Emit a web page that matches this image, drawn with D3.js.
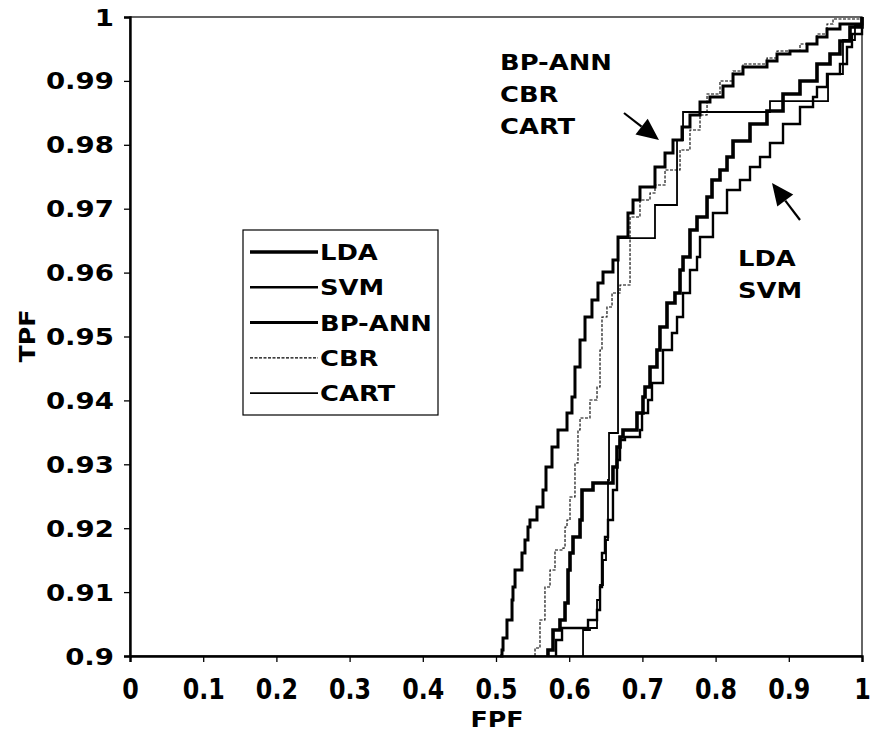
<!DOCTYPE html>
<html>
<head>
<meta charset="utf-8">
<script src="https://cdn.jsdelivr.net/npm/d3@7"></script>
<style>
  html, body { margin: 0; padding: 0; background: #fff; }
  svg { display: block; }
  text { font-family: "DejaVu Sans", Verdana, sans-serif; font-weight: bold; fill: #000; }
</style>
</head>
<body>
<div id="chart"></div>
<script>
// ---------------- data ----------------
const seriesNames = ["LDA", "SVM", "BP-ANN", "CBR", "CART"];
const xTickValues = [0, 0.1, 0.2, 0.3, 0.4, 0.5, 0.6, 0.7, 0.8, 0.9, 1];
const xTickLabels = ["0", "0.1", "0.2", "0.3", "0.4", "0.5", "0.6", "0.7", "0.8", "0.9", "1"];
const yTickValues = [0.9, 0.91, 0.92, 0.93, 0.94, 0.95, 0.96, 0.97, 0.98, 0.99, 1];
const yTickLabels = ["0.9", "0.91", "0.92", "0.93", "0.94", "0.95", "0.96", "0.97", "0.98", "0.99", "1"];

const ldaData = [[0.571,0.9],[0.571,0.90094],[0.5779,0.90407],[0.5874,0.90563],[0.5943,0.9083],[0.5984,0.91346],[0.6011,0.91612],[0.6052,0.91862],[0.6148,0.91925],[0.6148,0.92128],[0.6175,0.92598],[0.6325,0.92598],[0.6325,0.92707],[0.6557,0.92707],[0.6598,0.92958],[0.6653,0.93271],[0.6694,0.93427],[0.6735,0.93537],[0.6926,0.93646],[0.6926,0.93803],[0.7008,0.94053],[0.7036,0.9421],[0.7104,0.94523],[0.7199,0.94789],[0.724,0.95149],[0.7336,0.95524],[0.7445,0.95681],[0.7514,0.96041],[0.7555,0.96244],[0.765,0.96667],[0.7746,0.9687],[0.7883,0.97183],[0.7951,0.97449],[0.806,0.97606],[0.8156,0.97809],[0.8238,0.9806],[0.847,0.98326],[0.8702,0.98529],[0.8921,0.98795],[0.9153,0.98998],[0.9385,0.99264],[0.9563,0.99421],[0.9699,0.99624],[0.9836,0.99844],[1,1]];

const svmData = [[0.582,0.9],[0.582,0.9025],[0.5902,0.90438],[0.6257,0.90438],[0.6257,0.90563],[0.638,0.9072],[0.6421,0.9108],[0.6448,0.91612],[0.6489,0.91862],[0.653,0.92128],[0.6598,0.92598],[0.6653,0.93067],[0.6694,0.9338],[0.6762,0.93427],[0.6967,0.93537],[0.6995,0.93803],[0.7077,0.94006],[0.7131,0.94272],[0.7281,0.94789],[0.7404,0.95055],[0.7473,0.95305],[0.7555,0.95681],[0.765,0.96041],[0.7746,0.96244],[0.7787,0.96557],[0.7964,0.96933],[0.8156,0.97293],[0.8333,0.97449],[0.847,0.97653],[0.8607,0.97809],[0.8743,0.98028],[0.8921,0.98326],[0.9153,0.98592],[0.9331,0.98748],[0.9385,0.98905],[0.9522,0.99108],[0.9699,0.99264],[0.9795,0.99531],[0.9863,0.99734],[1,1]];

const bpannData = [[0.5055,0.9],[0.5082,0.90094],[0.5096,0.90282],[0.515,0.90563],[0.5219,0.90876],[0.5232,0.9108],[0.526,0.91346],[0.5355,0.91612],[0.5396,0.91815],[0.5437,0.92019],[0.5464,0.92128],[0.556,0.92332],[0.5642,0.92598],[0.5683,0.92958],[0.5765,0.93271],[0.5847,0.93537],[0.597,0.93803],[0.6038,0.94053],[0.6079,0.94523],[0.6148,0.94945],[0.6216,0.95305],[0.6311,0.95571],[0.6393,0.95837],[0.6462,0.9601],[0.6598,0.96197],[0.6667,0.96557],[0.6803,0.96933],[0.6872,0.97136],[0.6967,0.9734],[0.7172,0.97653],[0.7309,0.97872],[0.7418,0.98075],[0.7541,0.98279],[0.765,0.98466],[0.7787,0.9867],[0.7923,0.98748],[0.8101,0.9892],[0.8238,0.99108],[0.8374,0.99218],[0.8702,0.99311],[0.8839,0.99421],[0.9016,0.99468],[0.9249,0.99577],[0.9385,0.99687],[0.9522,0.99812],[0.9699,0.9989],[1,1]];

const cbrData = [[0.5533,0.9],[0.5533,0.90125],[0.5601,0.90563],[0.5669,0.9108],[0.5738,0.91346],[0.5806,0.91659],[0.5915,0.9169],[0.5943,0.92019],[0.597,0.92128],[0.6011,0.92488],[0.6079,0.9302],[0.612,0.93537],[0.6148,0.93725],[0.6284,0.9374],[0.6284,0.94006],[0.638,0.94038],[0.638,0.9421],[0.6421,0.94789],[0.6448,0.95305],[0.6516,0.95462],[0.6585,0.95681],[0.6694,0.95806],[0.6831,0.95853],[0.6831,0.9687],[0.6967,0.97136],[0.7104,0.97246],[0.7172,0.97371],[0.7309,0.97606],[0.7514,0.97919],[0.765,0.98232],[0.7787,0.98466],[0.7883,0.98795],[0.806,0.98998],[0.8238,0.99155],[0.8374,0.99264],[0.8702,0.99358],[0.8839,0.99468],[0.9153,0.99577],[0.9385,0.99734],[0.9522,0.9989],[0.9604,0.99969],[1,1]];

const cartData = [[0.6189,0.9],[0.6189,0.90407],[0.6284,0.90438],[0.638,0.90876],[0.6421,0.91111],[0.6462,0.91502],[0.6503,0.91815],[0.653,0.9205],[0.653,0.92754],[0.6544,0.9349],[0.6667,0.9349],[0.6667,0.96541],[0.7172,0.96541],[0.7172,0.97058],[0.7473,0.97058],[0.7473,0.98075],[0.7555,0.9831],[0.7555,0.98513],[0.8743,0.98513],[0.8743,0.98685],[0.9536,0.98685],[0.9536,0.99108],[0.974,0.99108],[0.974,0.9964],[0.9904,0.99875],[1,1]];

const seriesData = [ldaData, svmData, bpannData, cbrData, cartData];
const seriesWidth = [3.6, 2.4, 3.0, 1.1, 1.8];
const seriesDash = [null, null, null, "3,1.5", null];

const groupLabelA = ["BP-ANN", "CBR", "CART"];
const groupLabelB = ["LDA", "SVM"];

// ---------------- layout ----------------
const W = 870, H = 746;
const plot = { left: 130, right: 862, top: 17, bottom: 656 };

const svg = d3.select("#chart").append("svg").attr("width", W).attr("height", H);

const x = d3.scaleLinear().domain([0, 1]).range([plot.left, plot.right]);
const y = d3.scaleLinear().domain([0.9, 1]).range([plot.bottom, plot.top]);

// frame
svg.append("rect")
  .attr("x", plot.left).attr("y", plot.top)
  .attr("width", plot.right - plot.left).attr("height", plot.bottom - plot.top)
  .attr("fill", "none").attr("stroke", "#000").attr("stroke-width", 1.2);

// axes
const xAxis = d3.axisBottom(x).tickValues(xTickValues).tickSize(6).tickFormat((d, i) => xTickLabels[i]);
const yAxis = d3.axisLeft(y).tickValues(yTickValues).tickSize(6).tickFormat((d, i) => yTickLabels[i]);

const gx = svg.append("g").attr("transform", `translate(0,${plot.bottom})`).call(xAxis);
gx.select(".domain").attr("stroke-width", 2.4);
gx.selectAll(".tick line").attr("stroke-width", 1.3);
gx.selectAll(".tick text")
  .attr("font-size", 25).attr("font-family", "DejaVu Sans").attr("font-weight", "bold")
  .attr("dy", null).attr("y", 0)
  .attr("transform", "translate(0,43) scale(0.95,1.1)");

const gy = svg.append("g").attr("transform", `translate(${plot.left},0)`).call(yAxis);
gy.select(".domain").attr("stroke-width", 2.4);
gy.selectAll(".tick line").attr("stroke-width", 1.3);
gy.selectAll(".tick text")
  .attr("font-size", 23).attr("font-family", "DejaVu Sans").attr("font-weight", "bold")
  .attr("x", 0).attr("dy", null).attr("y", 0)
  .attr("transform", "translate(-16,8) scale(1.2,1)");

// axis titles
svg.append("text").attr("transform", `translate(497,727) scale(1.15,1)`)
  .attr("text-anchor", "middle").attr("font-size", 22).style("font-weight", "900").text("FPF");
svg.append("text").attr("transform", `translate(35,336) rotate(-90) scale(1.15,1)`)
  .attr("text-anchor", "middle").attr("font-size", 22).style("font-weight", "900").text("TPF");

// curves
const line = d3.line().x(d => x(d[0])).y(d => y(d[1])).curve(d3.curveStepAfter);
const gc = svg.append("g");
seriesData.forEach((data, i) => {
  gc.append("path")
    .attr("d", line(data))
    .attr("fill", "none")
    .attr("stroke", "#000")
    .attr("stroke-width", seriesWidth[i])
    .attr("stroke-dasharray", seriesDash[i])
    .attr("stroke-linejoin", "miter");
});

// legend
const lg = svg.append("g");
lg.append("rect").attr("x", 243).attr("y", 230).attr("width", 195).attr("height", 185)
  .attr("fill", "#fff").attr("stroke", "#000").attr("stroke-width", 1.2);
seriesNames.forEach((name, i) => {
  const yy = 252 + i * 35.3;
  lg.append("line").attr("x1", 250).attr("x2", 318).attr("y1", yy).attr("y2", yy)
    .attr("stroke", "#000").attr("stroke-width", seriesWidth[i]).attr("stroke-dasharray", seriesDash[i]);
  lg.append("text").attr("transform", `translate(320,${yy + 8}) scale(1.2,1)`)
    .attr("font-size", 21.5).text(name);
});

// annotations
groupLabelA.forEach((t, i) => {
  svg.append("text").attr("transform", `translate(500,${70 + i * 32}) scale(1.2,1)`)
    .attr("font-size", 21.5).text(t);
});
groupLabelB.forEach((t, i) => {
  svg.append("text").attr("transform", `translate(738,${266 + i * 32}) scale(1.2,1)`)
    .attr("font-size", 21.5).text(t);
});

// arrows
function arrow(x1, y1, x2, y2) {
  const ang = Math.atan2(y2 - y1, x2 - x1);
  const hl = 22, hw = 10;
  const bx = x2 - hl * Math.cos(ang), by = y2 - hl * Math.sin(ang);
  svg.append("line").attr("x1", x1).attr("y1", y1).attr("x2", bx).attr("y2", by)
    .attr("stroke", "#000").attr("stroke-width", 2.2);
  const px = -Math.sin(ang) * hw, py = Math.cos(ang) * hw;
  svg.append("path")
    .attr("d", `M${x2},${y2}L${bx + px},${by + py}L${bx - px},${by - py}Z`)
    .attr("fill", "#000");
}
arrow(624, 113, 659, 140);
arrow(800, 220, 772, 183);
</script>
</body>
</html>
